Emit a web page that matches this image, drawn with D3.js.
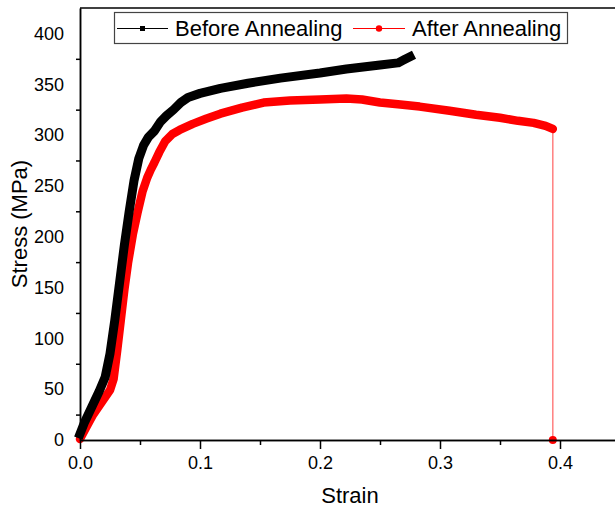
<!DOCTYPE html>
<html>
<head>
<meta charset="utf-8">
<script src="https://cdn.jsdelivr.net/npm/d3@7"></script>
<style>
  body { margin: 0; background: #fff; }
  svg { display: block; font-family: "Liberation Sans", Arial, sans-serif; }
</style>
</head>
<body>
<div id="chart"></div>
<script>
// values
const strainBefore = [0, 0.004, 0.010, 0.016, 0.021, 0.025, 0.029, 0.033, 0.037, 0.041, 0.045, 0.049,
  0.053, 0.057, 0.062, 0.067, 0.072, 0.078, 0.084, 0.09, 0.1, 0.117, 0.14, 0.167, 0.2, 0.222,
  0.25, 0.265, 0.27, 0.275];
const stressBefore = [6, 18, 33, 48, 62, 85, 118, 155, 192, 225, 255, 277,
  290, 298, 304, 313, 319, 325, 332, 337, 341, 346, 351, 356, 361, 365,
  369, 371, 374, 377];

const strainAfter = [0, 0.005, 0.011, 0.018, 0.025, 0.028, 0.031, 0.034, 0.037, 0.040, 0.044, 0.048,
  0.052, 0.056, 0.059, 0.062, 0.066, 0.071, 0.077, 0.083, 0.094, 0.105, 0.117, 0.135, 0.153,
  0.175, 0.2, 0.222, 0.235, 0.25, 0.267, 0.283, 0.308, 0.33, 0.35, 0.365, 0.378, 0.388, 0.394, 0.394];
const stressAfter = [1, 12, 25, 37, 49, 60, 88, 118, 148, 174, 202, 224,
  244, 258, 266, 273, 283, 294, 301, 305, 311, 316, 321, 327, 332,
  334, 335, 336, 335, 332, 330, 328, 324, 320, 317, 314, 312, 309, 306, 0];

const xMajor = [0, 0.1, 0.2, 0.3, 0.4];
const xMinor = [0.05, 0.15, 0.25, 0.35];
const yLabels = [0, 50, 100, 150, 200, 250, 300, 350, 400];
const yMinor = [25, 75, 125, 175, 225, 275, 325, 375];
const seriesNames = ["Before Annealing", "After Annealing"];

const W = 615, H = 510;
const LEFT = 80, RIGHT = 615, TOP = 8, BOTTOM = 440;

const svg = d3.select("#chart").append("svg").attr("width", W).attr("height", H);

const x = d3.scaleLinear().domain([0, (RIGHT - LEFT) / 1200]).range([LEFT, RIGHT]);
const y = d3.scaleLinear().domain([0, 425]).range([BOTTOM, TOP]);

const before = strainBefore.map((s, i) => [s, stressBefore[i]]);
const after = strainAfter.map((s, i) => [s, stressAfter[i]]);

const line = d3.line().x(d => x(d[0])).y(d => y(d[1]));

// thin connecting line of the red series (shows the drop at fracture)
svg.append("path")
  .attr("d", line(after.slice(-2)))
  .attr("fill", "none")
  .attr("stroke", "red")
  .attr("stroke-opacity", 0.5)
  .attr("stroke-width", 1.5);

// dense markers merge into thick bands
svg.append("path")
  .attr("d", line(after.slice(0, -1)))
  .attr("fill", "none")
  .attr("stroke", "red")
  .attr("stroke-width", 8.5)
  .attr("stroke-linejoin", "round")
  .attr("stroke-linecap", "round");

svg.append("path")
  .attr("d", line(before))
  .attr("fill", "none")
  .attr("stroke", "black")
  .attr("stroke-width", 9)
  .attr("stroke-linejoin", "round")
  .attr("stroke-linecap", "square");

// fracture point marker
const last = after[after.length - 1];
svg.append("circle")
  .attr("cx", x(last[0]))
  .attr("cy", y(last[1]))
  .attr("r", 4)
  .attr("fill", "red");

// axes
const xAxis = svg.append("g").attr("transform", `translate(0,${BOTTOM})`)
  .call(d3.axisBottom(x).tickValues(xMajor).tickSize(9).tickSizeOuter(0)
    .tickPadding(7).tickFormat(d3.format(".1f")));
const xAxisMinor = svg.append("g").attr("transform", `translate(0,${BOTTOM})`)
  .call(d3.axisBottom(x).tickValues(xMinor).tickSize(5).tickSizeOuter(0).tickFormat(""));
const yAxisMinor = svg.append("g").attr("transform", `translate(${LEFT},0)`)
  .call(d3.axisLeft(y).tickValues(yMinor).tickSize(4).tickSizeOuter(0).tickFormat(""));
const yAxis = svg.append("g").attr("transform", `translate(${LEFT},0)`)
  .call(d3.axisLeft(y).tickValues(yLabels).tickSize(0).tickSizeOuter(0).tickPadding(16));

[xAxis, xAxisMinor, yAxisMinor, yAxis].forEach(g => {
  g.selectAll("path.domain").attr("stroke", "black").attr("stroke-width", 1.5);
  g.selectAll(".tick line").attr("stroke", "black").attr("stroke-width", 1.5);
  g.selectAll(".tick text").attr("fill", "black")
    .style("font-size", "18px").style("font-family", "'Liberation Sans', Arial, sans-serif");
});

// top border
svg.append("line")
  .attr("x1", LEFT).attr("x2", RIGHT)
  .attr("y1", TOP).attr("y2", TOP)
  .attr("stroke", "black").attr("stroke-width", 1.5);

// axis titles
svg.append("text")
  .attr("x", 350).attr("y", 503)
  .attr("text-anchor", "middle")
  .style("font-size", "22px")
  .text("Strain");

svg.append("text")
  .attr("transform", `translate(27,${(TOP + BOTTOM) / 2}) rotate(-90)`)
  .attr("text-anchor", "middle")
  .style("font-size", "22px")
  .text("Stress (MPa)");

// legend
const legend = svg.append("g");
legend.append("rect")
  .attr("x", 114.5).attr("y", 12.5)
  .attr("width", 453).attr("height", 31)
  .attr("fill", "white")
  .attr("stroke", "#444").attr("stroke-width", 1.2);

legend.append("line")
  .attr("x1", 117).attr("x2", 168).attr("y1", 28.5).attr("y2", 28.5)
  .attr("stroke", "black").attr("stroke-width", 1);
legend.append("rect")
  .attr("x", 140).attr("y", 26).attr("width", 5).attr("height", 5)
  .attr("fill", "black");
legend.append("text")
  .attr("x", 175).attr("y", 35.5)
  .style("font-size", "22px")
  .text(seriesNames[0]);

legend.append("line")
  .attr("x1", 353).attr("x2", 405).attr("y1", 28.5).attr("y2", 28.5)
  .attr("stroke", "red").attr("stroke-width", 1);
legend.append("circle")
  .attr("cx", 379).attr("cy", 28.5).attr("r", 3.2)
  .attr("fill", "red");
legend.append("text")
  .attr("x", 412).attr("y", 35.5)
  .style("font-size", "22px")
  .text(seriesNames[1]);
</script>
</body>
</html>
